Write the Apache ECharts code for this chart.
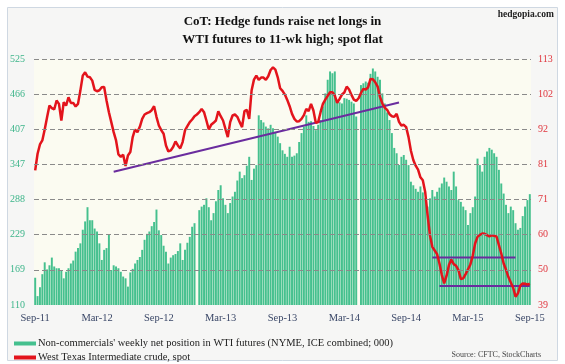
<!DOCTYPE html>
<html>
<head>
<meta charset="utf-8">
<script src="https://cdn.jsdelivr.net/npm/echarts@6/dist/echarts.min.js"></script>
<style>
html,body{margin:0;padding:0;background:#fff;}
#chart{width:565px;height:364px;}
</style>
</head>
<body>
<div id="chart"></div>
<script>
// ---- data ----
const titleText = 'CoT: Hedge funds raise net longs in\nWTI futures to 11-wk high; spot flat';
const barName = "Non-commercials' weekly net position in WTI futures (NYME, ICE combined; 000)";
const lineName = 'West Texas Intermediate crude, spot';
const xTickLabels = ['Sep-11','Mar-12','Sep-12','Mar-13','Sep-13','Mar-14','Sep-14','Mar-15','Sep-15'];
const leftTicks = [110,169,229,288,347,407,466,525];
const rightTicks = [39,50,60,71,81,92,102,113];

// weekly net position (000 contracts)
const netLongs = [
156,125,140,162,182,170,177,190,175,172,
172,168,155,166,172,180,185,200,206,214,
237,251,275,253,253,239,234,214,186,203,
206,229,169,177,175,172,166,158,155,141,
165,171,180,186,191,203,220,230,234,243,
250,271,236,228,210,200,180,190,194,196,
201,214,186,203,215,225,242,248,null,270,
276,279,290,275,253,265,285,304,312,290,
279,265,282,293,301,320,335,324,329,345,
360,321,340,346,430,422,418,411,408,414,
408,402,394,383,371,365,360,377,360,362,
366,385,400,411,430,419,420,412,405,414,
422,445,467,490,504,501,504,456,452,450,
459,458,456,453,450,428,null,481,484,487,
485,500,509,504,495,490,467,450,435,422,
400,375,366,346,360,363,355,346,318,312,
306,301,310,300,290,276,290,304,293,301,
308,315,325,318,310,304,335,310,287,284,
276,270,245,265,275,293,357,346,335,360,
369,375,372,366,360,338,315,298,279,265,
276,270,248,237,240,260,276,287,297
];

// WTI spot ($/bbl), weekly
const wtiSpot = [
79.5,84.5,87.3,88.5,91.8,95.5,99.0,98.2,97.8,100.5,
99.5,94.5,100.0,99.0,101.5,99.8,99.8,98.7,99.5,103.5,
108.0,109.0,107.7,107.5,106.5,103.7,103.3,103.6,104.5,104.6,
100.5,97.0,94.0,91.0,88.5,84.3,83.6,84.2,80.8,84.0,
85.0,89.5,91.8,91.0,92.6,95.0,96.3,96.7,97.0,97.6,
98.8,95.6,93.0,91.6,90.5,87.0,85.2,85.5,86.5,88.2,
87.0,86.1,88.0,91.5,92.8,94.0,94.8,95.8,96.3,97.0,
98.0,97.0,94.5,91.8,93.2,93.8,94.5,97.3,95.8,94.5,
92.0,89.5,94.0,96.0,96.3,95.6,94.0,92.5,97.3,97.7,
95.0,103.5,106.8,108.0,106.7,107.4,107.4,106.7,107.8,109.7,
110.5,109.8,107.5,104.2,103.4,102.3,100.7,98.8,96.5,95.0,
94.2,94.3,95.0,96.1,98.0,97.3,99.5,97.5,93.8,94.0,
97.0,99.5,100.8,101.9,103.0,103.0,102.0,99.8,101.0,102.3,
102.9,104.7,103.8,102.2,100.8,100.4,101.2,102.8,104.0,103.8,
104.5,107.0,106.9,106.0,104.7,101.6,99.6,98.4,97.7,96.4,
95.8,95.6,96.5,94.1,93.0,93.2,92.5,89.5,85.4,82.6,
80.9,79.7,77.4,76.5,73.0,66.1,60.0,56.5,55.4,54.3,
51.5,48.0,45.5,47.8,51.0,52.7,51.3,50.8,49.5,46.8,
47.0,48.3,49.7,51.2,53.8,57.5,59.5,60.1,60.5,60.4,
60.0,59.6,60.0,59.8,59.6,57.0,54.5,51.5,49.6,47.4,
45.8,44.2,41.5,42.5,44.8,45.5,45.4,45.1,45.4
];

// trend lines drawn on the spot chart: [weekIndex, price]
const trendRising = [[33, 79.1], [153, 99.9]];
const rangeTop = [[167, 53.3], [202, 53.3]];
const rangeBottom = [[170, 44.7], [208, 44.7]];

// weekly categories
const weeks = [];
(function(){
  const start = new Date(Date.UTC(2011, 8, 6));
  for (let i = 0; i < netLongs.length; i++) {
    const d = new Date(start.getTime() + i * 7 * 86400000);
    weeks.push(d.toISOString().slice(0, 10));
  }
})();

// ---- chart ----
const LMIN = leftTicks[0], LMAX = leftTicks[leftTicks.length - 1];
const RMIN = rightTicks[0], RMAX = rightTicks[rightTicks.length - 1];
const nSteps = leftTicks.length - 1;
const leftPos = leftTicks.map((t, k) => LMIN + k * (LMAX - LMIN) / nSteps);
const rightPos = rightTicks.map((t, k) => RMIN + k * (RMAX - RMIN) / nSteps);
const labelEvery = 26;
const serif = "'Liberation Serif', 'DejaVu Serif', serif";

const chart = echarts.init(document.getElementById('chart'), null, {renderer: 'canvas'});
chart.setOption({
  backgroundColor: '#ffffff',
  animation: false,
  title: {
    text: titleText,
    left: 'center',
    top: 13,
    padding: 0,
    textStyle: {fontFamily: serif, fontWeight: 'bold', fontSize: 13, lineHeight: 18, color: '#111'}
  },
  graphic: [
    {type: 'rect', z: -10, shape: {x: 7.5, y: 7.5, width: 550, height: 353},
     style: {fill: '#f6f6f5', stroke: '#cfd8e2', lineWidth: 1}},
    {type: 'text', x: 554, y: 15, style: {text: 'hedgopia.com', align: 'right', verticalAlign: 'middle',
      font: "bold 9.5px 'Liberation Serif', serif", fill: '#222'}},
    {type: 'text', x: 541, y: 355, style: {text: 'Source: CFTC, StockCharts', align: 'right', verticalAlign: 'middle',
      font: "8px 'Liberation Serif', serif", fill: '#444'}}
  ],
  legend: {
    orient: 'vertical',
    left: 14,
    top: 338,
    itemGap: 3,
    itemWidth: 22,
    itemHeight: 4,
    padding: 0,
    textStyle: {fontFamily: serif, fontSize: 10.5, color: '#222', padding: [0, 0, 0, -3]},
    data: [
      {name: barName, icon: 'rect'},
      {name: lineName, icon: 'rect'}
    ]
  },
  grid: {left: 34, right: 34, top: 59, bottom: 59, show: true, backgroundColor: '#fbfbf1', borderWidth: 0},
  xAxis: {
    type: 'category',
    data: weeks,
    boundaryGap: true,
    axisLine: {show: false},
    axisTick: {show: false},
    splitLine: {show: false},
    axisLabel: {
      interval: function (idx) { return idx % labelEvery === 0; },
      formatter: function (v, idx) { return xTickLabels[Math.round(idx / labelEvery)] || ''; },
      fontFamily: serif, fontSize: 10.5, color: '#3b4868', margin: 8
    }
  },
  yAxis: [
    {
      type: 'value', min: LMIN, max: LMAX, position: 'left',
      axisLine: {show: false}, axisTick: {show: false}, splitLine: {show: false},
      axisLabel: {
        customValues: leftPos,
        formatter: function (v) {
          let best = 0;
          leftPos.forEach((p, k) => { if (Math.abs(p - v) < Math.abs(leftPos[best] - v)) best = k; });
          return String(leftTicks[best]);
        },
        fontFamily: serif, fontSize: 10, color: '#3db58a', margin: 9
      }
    },
    {
      type: 'value', min: RMIN, max: RMAX, position: 'right',
      axisLine: {show: false}, axisTick: {show: false}, splitLine: {show: false},
      axisLabel: {
        customValues: rightPos,
        formatter: function (v) {
          let best = 0;
          rightPos.forEach((p, k) => { if (Math.abs(p - v) < Math.abs(rightPos[best] - v)) best = k; });
          return String(rightTicks[best]);
        },
        fontFamily: serif, fontSize: 10, color: '#e0353d', margin: 7
      }
    }
  ],
  series: [
    {
      name: barName,
      type: 'bar',
      yAxisIndex: 0,
      data: netLongs,
      barCategoryGap: '18%',
      itemStyle: {color: '#45c08e'},
      z: 2,
      markLine: {
        silent: true,
        symbol: 'none',
        label: {show: false},
        lineStyle: {color: '#8a8a8a', type: [5, 3], width: 1},
        data: leftPos.slice(1).map(v => ({yAxis: v}))
      }
    },
    {
      name: 'trend1', type: 'line', yAxisIndex: 1, data: trendRising,
      symbol: 'none', lineStyle: {color: '#6a2c9e', width: 2}, z: 3
    },
    {
      name: 'trend2', type: 'line', yAxisIndex: 1, data: rangeTop,
      symbol: 'none', lineStyle: {color: '#6a2c9e', width: 2}, z: 3
    },
    {
      name: 'trend3', type: 'line', yAxisIndex: 1, data: rangeBottom,
      symbol: 'none', lineStyle: {color: '#6a2c9e', width: 2}, z: 3
    },
    {
      name: lineName,
      type: 'line',
      yAxisIndex: 1,
      data: wtiSpot,
      symbol: 'none',
      itemStyle: {color: '#e3141c'},
      lineStyle: {color: '#e3141c', width: 2.5},
      z: 4
    }
  ]
});
</script>
</body>
</html>
